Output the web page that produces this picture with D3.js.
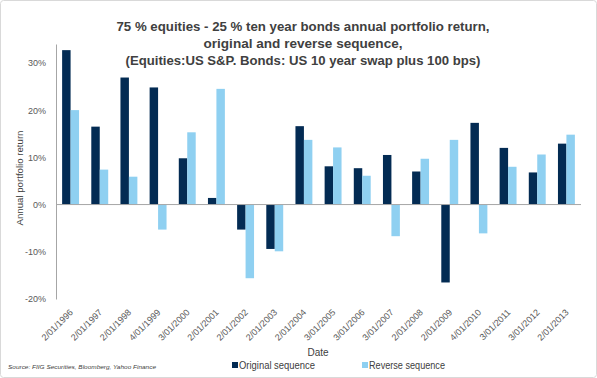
<!DOCTYPE html>
<html><head><meta charset="utf-8">
<script src="https://cdn.jsdelivr.net/npm/d3@7"></script>
<style>
html,body{margin:0;padding:0;background:#fff;}
text{font-family:"Liberation Sans",Arial,sans-serif;}
</style></head>
<body><svg id="c" width="597" height="378"></svg>
<script>
const categories = ["2/01/1996","2/01/1997","2/01/1998","4/01/1999","3/01/2000","2/01/2001","2/01/2002","2/01/2003","2/01/2004","3/01/2005","3/01/2006","3/01/2007","2/01/2008","2/01/2009","4/01/2010","3/01/2011","3/01/2012","2/01/2013"];
const originalSeq = [32.7,16.5,26.9,24.8,9.8,1.4,-5.3,-9.4,16.6,8.1,7.7,10.5,7.0,-16.5,17.3,12.0,6.8,12.9];
const reverseSeq  = [20.0,7.4,5.9,-5.3,15.3,24.5,-15.6,-9.9,13.7,12.1,6.1,-6.7,9.7,13.7,-6.1,8.0,10.6,14.8];
const yTicks = [-20,-10,0,10,20,30];
const titleLines = ["75 % equities - 25 % ten year bonds  annual portfolio return,","original and reverse sequence,","(Equities:US S&P. Bonds: US 10 year swap plus 100 bps)"];
const seriesNames = ["Original sequence","Reverse sequence"];
const colors = ["#032b53","#8fd0f1"];

const svg = d3.select("#c");
svg.append("rect").attr("x",0.5).attr("y",0.5).attr("width",596).attr("height",377)
  .attr("rx",3).attr("fill","#fff").attr("stroke","#d9d9d9");

const L=56, R=581, T=44, B=299;
const x = d3.scaleBand().domain(categories).range([L,R]).paddingInner(0.42).paddingOuter(0.21);
const xs = d3.scaleBand().domain([0,1]).range([0,x.bandwidth()]);
const y = d3.scaleLinear().domain([-20,34]).range([B,T]);

// title
const tw=[373,199,355];
svg.append("g").selectAll("text").data(titleLines).join("text")
  .attr("x",303).attr("y",(d,i)=>31+i*17).attr("text-anchor","middle")
  .attr("font-size",13).attr("font-weight","bold").attr("fill","#404040")
  .attr("textLength",(d,i)=>tw[i]).attr("lengthAdjust","spacingAndGlyphs")
  .text(d=>d);

// bars
const data = categories.map((c,i)=>({c,v:[originalSeq[i],reverseSeq[i]]}));
const g = svg.append("g");
g.selectAll("g").data(data).join("g")
  .attr("transform",d=>`translate(${x(d.c)},0)`)
  .selectAll("rect").data(d=>d.v.map((v,k)=>({v,k}))).join("rect")
  .attr("x",d=>xs(d.k)).attr("width",xs.bandwidth())
  .attr("y",d=>y(Math.max(0,d.v))).attr("height",d=>Math.abs(y(d.v)-y(0)))
  .attr("fill",d=>colors[d.k]);

// y axis
const ya = svg.append("g").attr("transform",`translate(${L},0)`)
  .call(d3.axisLeft(y).tickValues(yTicks).tickFormat(d=>d+"%").tickSize(0).tickPadding(10));
ya.select(".domain").attr("stroke","#a6a6a6");
ya.selectAll("text").attr("font-size",9).attr("fill","#595959").attr("font-family","Liberation Sans, Arial, sans-serif");

// zero line
svg.append("line").attr("x1",L).attr("x2",R).attr("y1",y(0)).attr("y2",y(0)).attr("stroke","#a6a6a6");

// x labels
const xa = svg.append("g").attr("transform",`translate(0,${B})`)
  .call(d3.axisBottom(x).tickSize(0).tickPadding(0));
xa.select(".domain").remove();
xa.selectAll("text").attr("font-size",9).attr("fill","#595959")
  .attr("font-family","Liberation Sans, Arial, sans-serif")
  .attr("text-anchor","end").attr("dy",null).attr("y",0)
  .attr("transform","translate(3,14) rotate(-45)");

// axis titles
svg.append("text").attr("x",318).attr("y",356).attr("text-anchor","middle")
  .attr("font-size",10).attr("fill","#404040").text("Date");
svg.append("text").attr("transform","translate(23,178) rotate(-90)").attr("text-anchor","middle")
  .attr("font-size",9.5).attr("fill","#404040")
  .attr("textLength",95).attr("lengthAdjust","spacingAndGlyphs").text("Annual portfolio return");

// source
svg.append("text").attr("x",8).attr("y",369).attr("font-size",6).attr("font-style","italic")
  .attr("fill","#404040").attr("textLength",148).attr("lengthAdjust","spacingAndGlyphs")
  .text("Source: FIIG Securities, Bloomberg, Yahoo Finance");

// legend
const lx=[232,362];
const lg = svg.append("g").selectAll("g").data(seriesNames).join("g")
  .attr("transform",(d,i)=>`translate(${lx[i]},362)`);
lg.append("rect").attr("width",6).attr("height",6).attr("fill",(d,i)=>colors[i]);
lg.append("text").attr("x",7).attr("y",7).attr("font-size",10).attr("fill","#404040")
  .attr("textLength",76).attr("lengthAdjust","spacingAndGlyphs").text(d=>d);
</script></body></html>
